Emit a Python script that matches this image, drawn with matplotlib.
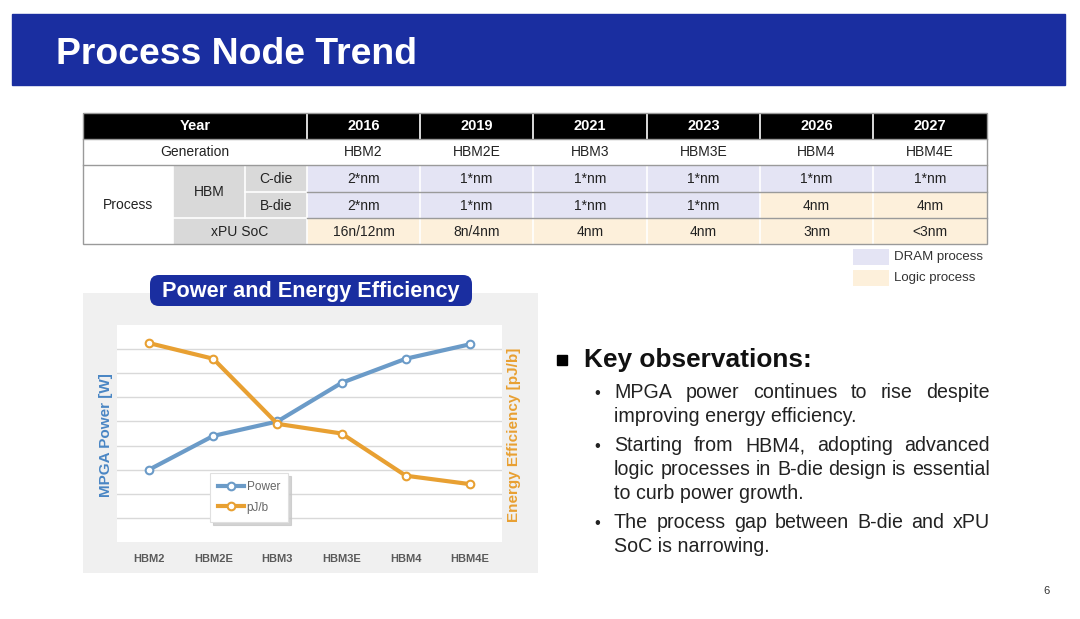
import matplotlib
matplotlib.use('Agg')
import matplotlib.pyplot as plt
from matplotlib.patches import Rectangle, FancyBboxPatch
from matplotlib.font_manager import FontProperties

plt.rcParams['font.family'] = ['Liberation Sans', 'DejaVu Sans']

# ---- data ----
YEARS = ['2016', '2019', '2021', '2023', '2026', '2027']
GENERATIONS = ['HBM2', 'HBM2E', 'HBM3', 'HBM3E', 'HBM4', 'HBM4E']
C_DIE = ['2*nm', '1*nm', '1*nm', '1*nm', '1*nm', '1*nm']
B_DIE = ['2*nm', '1*nm', '1*nm', '1*nm', '4nm', '4nm']
XPU_SOC = ['16n/12nm', '8n/4nm', '4nm', '4nm', '3nm', '<3nm']
C_DIE_KIND = ['DRAM'] * 6
B_DIE_KIND = ['DRAM', 'DRAM', 'DRAM', 'DRAM', 'Logic', 'Logic']
XPU_KIND = ['Logic'] * 6

POWER = [3.0, 4.4, 5.0, 6.6, 7.6, 8.2]
PJ_PER_BIT = [8.25, 7.6, 4.9, 4.5, 2.75, 2.4]

BULLETS = [
    ['MPGA power continues to rise despite', 'improving energy efficiency.'],
    ['Starting from HBM4, adopting advanced',
     'logic processes in B-die design is essential',
     'to curb power growth.'],
    ['The process gap between B-die and xPU', 'SoC is narrowing.'],
]

W, H = 1080, 619
BLUE = '#1a2ea0'
KIND_COLORS = {'DRAM': '#e4e4f4', 'Logic': '#fdf0db'}
GRAY_CELL = '#d9d9d9'
POWER_COLOR = '#6b9bc8'
PJ_COLOR = '#e8a032'

fig = plt.figure(figsize=(W / 100, H / 100), dpi=100)
bg = fig.add_axes([0, 0, 1, 1])
bg.set_xlim(0, W)
bg.set_ylim(H, 0)
bg.axis('off')

# title bar
bg.add_patch(Rectangle((12, 14), 1053, 71, color=BLUE, zorder=1))
bg.text(56, 54, 'Process Node Trend', color='white', fontsize=26.9, fontweight='bold',
        va='center', ha='left', zorder=2)

# ---- table ----
col_x = [307, 420, 533, 647, 760, 873, 987]
row_y = [113, 139, 165, 192, 218, 244]
left = 83


def cell(x0, x1, y0, y1, text, fc, color='#222222', weight='normal'):
    bg.add_patch(Rectangle((x0, y0), x1 - x0, y1 - y0, facecolor=fc, edgecolor='none', zorder=2))
    bg.text((x0 + x1) / 2, (y0 + y1) / 2 + 0.5, text, ha='center', va='center',
            fontsize=10.5 if weight == 'bold' else 10, color=color, fontweight=weight, zorder=4)


cell(left, col_x[0], row_y[0], row_y[1], 'Year', 'black', 'white', 'bold')
cell(left, col_x[0], row_y[1], row_y[2], 'Generation', 'white')
cell(left, 173, row_y[2], row_y[5], 'Process', 'white')
cell(173, 245, row_y[2], row_y[4], 'HBM', GRAY_CELL)
cell(245, col_x[0], row_y[2], row_y[3], 'C-die', GRAY_CELL)
cell(245, col_x[0], row_y[3], row_y[4], 'B-die', GRAY_CELL)
cell(173, col_x[0], row_y[4], row_y[5], 'xPU SoC', GRAY_CELL)

for i in range(len(YEARS)):
    x0, x1 = col_x[i], col_x[i + 1]
    cell(x0, x1, row_y[0], row_y[1], YEARS[i], 'black', 'white', 'bold')
    cell(x0, x1, row_y[1], row_y[2], GENERATIONS[i], 'white')
    cell(x0, x1, row_y[2], row_y[3], C_DIE[i], KIND_COLORS[C_DIE_KIND[i]])
    cell(x0, x1, row_y[3], row_y[4], B_DIE[i], KIND_COLORS[B_DIE_KIND[i]])
    cell(x0, x1, row_y[4], row_y[5], XPU_SOC[i], KIND_COLORS[XPU_KIND[i]])

# separators
for x in col_x[:-1]:
    bg.plot([x, x], [row_y[0], row_y[5]], color='white', lw=1.2, zorder=3)
bg.plot([245, 245], [row_y[2], row_y[4]], color='white', lw=1.2, zorder=3)
bg.plot([173, 173], [row_y[2], row_y[5]], color='white', lw=1.2, zorder=3)
bg.plot([245, col_x[0]], [row_y[3], row_y[3]], color='white', lw=1.2, zorder=3)
bg.plot([173, col_x[0]], [row_y[4], row_y[4]], color='white', lw=1.2, zorder=3)
for y in row_y[1:5]:
    x_start = left if y <= row_y[2] else col_x[0]
    bg.plot([x_start, col_x[-1]], [y, y], color='#9a9a9a', lw=1.0, zorder=3)
bg.add_patch(Rectangle((left, row_y[0]), col_x[-1] - left, row_y[5] - row_y[0],
                       facecolor='none', edgecolor='#9a9a9a', lw=1.0, zorder=3))

# table legend
for y0, kind, label in [(249, 'DRAM', 'DRAM process'), (270, 'Logic', 'Logic process')]:
    bg.add_patch(Rectangle((853, y0), 36, 16, facecolor=KIND_COLORS[kind], edgecolor='none', zorder=2))
    bg.text(894, y0 + 8, label, fontsize=9.5, color='#333333', va='center', ha='left')

# ---- chart panel ----
bg.add_patch(Rectangle((83, 293), 455, 280, facecolor='#f0f0f0', edgecolor='none', zorder=1))
bg.add_patch(FancyBboxPatch((150, 275), 322, 31, boxstyle='round,pad=0,rounding_size=9',
                            facecolor=BLUE, edgecolor='none', zorder=2))
bg.text(311, 291, 'Power and Energy Efficiency', color='white', fontsize=15.6, fontweight='bold',
        ha='center', va='center', zorder=3)
bg.text(106, 435, 'MPGA Power [W]', color='#4a86c4', fontsize=11, fontweight='bold',
        rotation=90, ha='center', va='center')
bg.text(514, 435, 'Energy Efficiency [pJ/b]', color=PJ_COLOR, fontsize=11, fontweight='bold',
        rotation=90, ha='center', va='center')

ax = fig.add_axes([117 / W, 1 - 542 / H, (502 - 117) / W, (542 - 325) / H])
ax.set_facecolor('white')
x = list(range(len(GENERATIONS)))
ax.set_xlim(-0.5, len(GENERATIONS) - 0.5)
ax.set_ylim(0, 9)
for g in range(1, 9):
    ax.axhline(g, color='#d9d9d9', lw=1.0, zorder=0)
for s in ax.spines.values():
    s.set_visible(False)
ax.set_yticks([])
ax.set_xticks(x)
ax.set_xticklabels(GENERATIONS, fontsize=8, fontweight='bold', color='#5a5a5a')
ax.tick_params(axis='x', length=0, pad=9)

l1, = ax.plot(x, POWER, color=POWER_COLOR, lw=3, marker='o', markersize=5.5,
              markerfacecolor='white', markeredgecolor=POWER_COLOR, markeredgewidth=1.5,
              label='Power', zorder=3)
ax2 = ax.twinx()
ax2.set_ylim(0, 9)
ax2.set_yticks([])
for s in ax2.spines.values():
    s.set_visible(False)
l2, = ax2.plot(x, PJ_PER_BIT, color=PJ_COLOR, lw=3, marker='o', markersize=5.5,
               markerfacecolor='white', markeredgecolor=PJ_COLOR, markeredgewidth=1.5,
               label='pJ/b', zorder=3)
leg = ax2.legend([l1, l2], ['Power', 'pJ/b'], loc='upper left',
                 bbox_to_anchor=(210 / W, 1 - 473 / H), bbox_transform=fig.transFigure,
                 fontsize=8.5, frameon=True, fancybox=False, shadow={'color': '#c8c8c8', 'alpha': 0.8},
                 handlelength=2.2, handletextpad=0.2, borderpad=0.7, labelspacing=0.7,
                 borderaxespad=0)
leg.get_frame().set_edgecolor('#e0e0e0')
leg.get_frame().set_linewidth(0.8)
for t in leg.get_texts():
    t.set_color('#666666')

# ---- key observations ----
bg.add_patch(Rectangle((557, 355), 10, 10, color='black', zorder=2))
bg.text(584, 367, 'Key observations:', fontsize=18.9, fontweight='bold', color='#111111',
        ha='left', va='baseline')

renderer = fig.canvas.get_renderer()
text_left, text_right = 614, 990

# pick a body size so the longest line sits naturally in the column
probe = FontProperties(family=['Liberation Sans', 'DejaVu Sans'], size=10)
longest = max((ln for b in BULLETS for ln in b),
              key=lambda s: renderer.get_text_width_height_descent(s, probe, ismath=False)[0])
w10 = renderer.get_text_width_height_descent(longest, probe, ismath=False)[0]
body_size = 10 * (text_right - text_left - 3) / w10
fp = FontProperties(family=['Liberation Sans', 'DejaVu Sans'], size=body_size)

baselines = [[398, 422], [451, 475, 499], [528, 552]]
for lines, bls in zip(BULLETS, baselines):
    bg.text(594, bls[0], '•', fontsize=12, color='#222222', ha='left', va='baseline')
    for k, (line, yb) in enumerate(zip(lines, bls)):
        words = line.split(' ')
        last = (k == len(lines) - 1)
        if last:
            bg.text(text_left, yb, line, fontproperties=fp, color='#222222', ha='left', va='baseline')
            continue
        widths = [renderer.get_text_width_height_descent(w_, fp, ismath=False)[0] for w_ in words]
        gap = (text_right - text_left - sum(widths)) / (len(words) - 1)
        xp = text_left
        for w_, ww in zip(words, widths):
            bg.text(xp, yb, w_, fontproperties=fp, color='#222222', ha='left', va='baseline')
            xp += ww + gap

bg.text(1047, 591, '6', fontsize=8, color='#333333', ha='center', va='center')

fig.savefig('out.png', dpi=100)
